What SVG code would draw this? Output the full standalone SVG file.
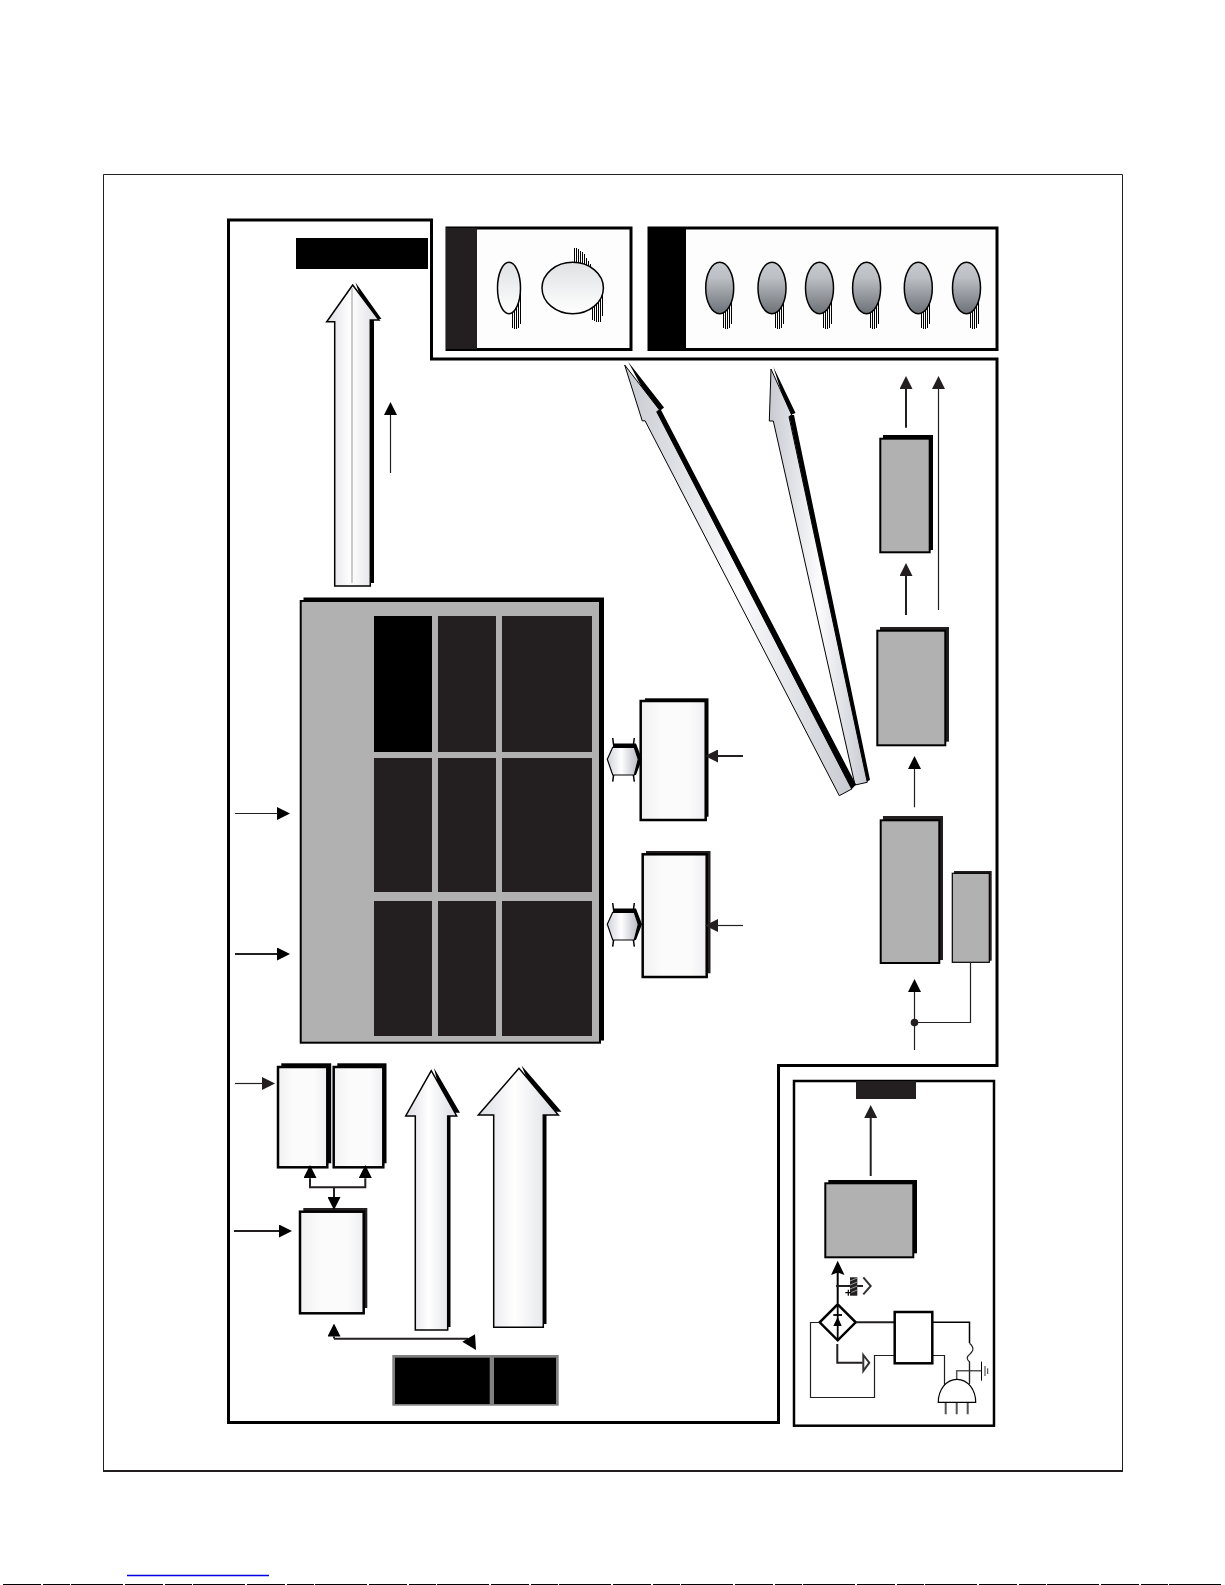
<svg xmlns="http://www.w3.org/2000/svg" xmlns:xlink="http://www.w3.org/1999/xlink" width="1225" height="1585" viewBox="0 0 1225 1585">
<style>
.k{fill:#000}
.d{fill:#231f20}
.gr{fill:#b1b1b1;stroke:#000;stroke-width:2}
.wb{fill:url(#gb);stroke:#000;stroke-width:2.5}
.ar{fill:url(#ga);stroke:#000;stroke-width:1.5;stroke-linejoin:miter}
.ad{fill:url(#gd);stroke:#000;stroke-width:1;stroke-linejoin:miter}
.e1{fill:url(#gl);stroke:#000;stroke-width:1.5}
.e2{fill:url(#gm);stroke:#000;stroke-width:1.5}
.c1{fill:none;stroke:#231f20;stroke-width:1.2}
.c2{fill:none;stroke:#231f20;stroke-width:2}
.c3{fill:none;stroke:#000;stroke-width:1.5}
.h{fill:none;stroke:#000;stroke-width:1}
.wht{fill:#fdfdfd;stroke:#000;stroke-width:3}
</style>
<defs>
<linearGradient id="ga"><stop offset="0" stop-color="#dcdde3"/><stop offset=".45" stop-color="#fff"/><stop offset="1" stop-color="#dcdde3"/></linearGradient>
<linearGradient id="gd"><stop offset="0" stop-color="#c8cad1"/><stop offset=".5" stop-color="#fbfbfc"/><stop offset="1" stop-color="#c8cad1"/></linearGradient>
<linearGradient id="gb"><stop offset="0" stop-color="#f1f1f3"/><stop offset=".3" stop-color="#fbfbfb"/><stop offset=".75" stop-color="#fbfbfb"/><stop offset="1" stop-color="#eeeef1"/></linearGradient>
<linearGradient id="gl" x2="0" y2="1"><stop offset="0" stop-color="#dfe1e3"/><stop offset="1" stop-color="#fff"/></linearGradient>
<linearGradient id="gm" x2="0" y2="1"><stop offset="0" stop-color="#c6c9ce"/><stop offset=".3" stop-color="#bcbfc4"/><stop offset="1" stop-color="#6c7177"/></linearGradient>
<linearGradient id="gh"><stop offset="0" stop-color="#d0d1da"/><stop offset=".45" stop-color="#fff"/><stop offset="1" stop-color="#b8bac4"/></linearGradient>
<marker id="hd" markerUnits="userSpaceOnUse" markerWidth="13" markerHeight="13" refX="0" refY="6.5" orient="auto" viewBox="0 0 13 13"><path d="M0 0L13 6.5L0 13z" fill="#231f20"/></marker>
<marker id="hk" markerUnits="userSpaceOnUse" markerWidth="13" markerHeight="13" refX="0" refY="6.5" orient="auto" viewBox="0 0 13 13"><path d="M0 0L13 6.5L0 13z" fill="#000"/></marker>
<g id="hatch"><path class="h" d="M3.500 0V40M5.500 0V41M7.500 0V41M9.500 0V40M11.500 0V36"/></g>
<g id="hex">
<path d="M612.700 738L614 748M634.300 738L633 748M612.700 781.700L614 772M634.300 781.700L633 772" stroke="#000" stroke-width="1.500" fill="none"/>
<path d="M613 743.500H636L642 759.300L636 775H633V747H613z" fill="#000"/>
<path d="M607.300 759.300L612.700 747.300H634.300L638.300 759.300L634.300 775H612.700z" fill="url(#gh)" stroke="#000" stroke-width="1.200"/>
</g>
</defs>
<rect width="1225" height="1585" fill="#fff"/>
<g id="page-frame">
<path d="M103.500 1471V174.500H1122.500V1471" fill="none" stroke="#231f20" stroke-width="1"/>
<path d="M103 1471H1123" stroke="#231f20" stroke-width="2"/>
<path d="M127 1575.500H269" stroke="#0000e0" stroke-width="1.500"/>
<path d="M3 1584.500H1222" stroke="#000" stroke-width="1" stroke-dasharray="38 2 27 1 52 2"/>
</g>
<g id="main-outline"><path d="M228.500 220H431.500V359H997V1065.500H778.500V1422.500H228.500z" fill="none" stroke="#000" stroke-width="3"/></g>
<g id="title-bar"><rect class="k" x="296" y="238" width="132" height="31"/></g>
<g id="panel-left">
<rect class="wht" x="447" y="228" width="184" height="121.500"/>
<rect class="d" x="446" y="228" width="31" height="121"/>
<g transform="translate(509,288)"><use xlink:href="#hatch"/></g>
<path class="h" d="M574.500 248V270M576.500 248V270M578.500 249V270M580.500 251V270M582.500 252V270M584.500 254V270M586.500 258V270M588.500 261V275M590.500 264V280M592.500 290V320M594.500 285V321M596.500 280V322M598.500 280V322M600.500 280V322M602.500 288V316"/>
<ellipse class="e1" cx="509" cy="288" rx="11.500" ry="25.700"/>
<ellipse class="e1" cx="572.700" cy="288" rx="30.700" ry="25.700"/>
</g>
<g id="panel-right">
<rect class="wht" x="649" y="228" width="348" height="121.500"/>
<rect class="k" x="648" y="227" width="38" height="123"/>
<g transform="translate(720,288)"><use xlink:href="#hatch"/></g>
<g transform="translate(772,288)"><use xlink:href="#hatch"/></g>
<g transform="translate(820,288)"><use xlink:href="#hatch"/></g>
<g transform="translate(867,288)"><use xlink:href="#hatch"/></g>
<g transform="translate(918,288)"><use xlink:href="#hatch"/></g>
<g transform="translate(967,288)"><use xlink:href="#hatch"/></g>
<ellipse class="e2" cx="719.700" cy="288" rx="14" ry="25.700"/>
<ellipse class="e2" cx="772" cy="288" rx="14" ry="25.700"/>
<ellipse class="e2" cx="819.500" cy="288" rx="14" ry="25.700"/>
<ellipse class="e2" cx="866.600" cy="288" rx="14" ry="25.700"/>
<ellipse class="e2" cx="918.300" cy="288" rx="14" ry="25.700"/>
<ellipse class="e2" cx="966.500" cy="288" rx="14" ry="25.700"/>
</g>
<g id="grid">
<rect class="k" x="303.500" y="597.500" width="300.500" height="443"/>
<rect class="gr" x="300.700" y="601" width="299.300" height="441.700"/>
<rect class="k" x="374" y="616" width="58" height="136"/>
<rect class="d" x="438" y="616" width="58" height="136"/>
<rect class="d" x="502" y="616" width="90" height="136"/>
<rect class="d" x="374" y="758" width="58" height="134"/>
<rect class="d" x="438" y="758" width="58" height="134"/>
<rect class="d" x="502" y="758" width="90" height="134"/>
<rect class="d" x="374" y="901" width="58" height="135"/>
<rect class="d" x="438" y="901" width="58" height="135"/>
<rect class="d" x="502" y="901" width="90" height="135"/>
</g>
<g id="box-a"><rect class="k" x="645" y="698.300" width="63.500" height="118.400"/><rect class="wb" x="640.700" y="701" width="65" height="119"/></g>
<g id="box-b"><rect class="d" x="646" y="851" width="64.500" height="122.300"/><rect class="wb" x="642.700" y="854.300" width="64" height="122.700"/></g>
<g id="hex-a"><use xlink:href="#hex"/></g>
<g id="hex-b"><use xlink:href="#hex" y="165"/></g>
<g id="box-r1"><rect class="k" x="883" y="435" width="50" height="115"/><rect class="gr" x="880.300" y="438.700" width="49.400" height="113.600"/></g>
<g id="box-r2"><rect class="d" x="880" y="627" width="69" height="114.700"/><rect class="gr" x="877.300" y="630.700" width="68" height="114.600"/></g>
<g id="box-r3"><rect class="d" x="883" y="816" width="60" height="144"/><rect class="gr" x="880.700" y="820.300" width="58.600" height="142.700"/></g>
<g id="box-r4"><rect class="d" x="954" y="871" width="37.700" height="89.700"/><rect class="gr" x="952.300" y="873.300" width="37" height="89" style="stroke-width:1.200"/></g>
<g id="box-m1"><rect class="k" x="281.300" y="1063.300" width="49.900" height="100"/><rect class="wb" x="278" y="1067" width="49.300" height="100.300"/></g>
<g id="box-m2"><rect class="k" x="337.300" y="1063.300" width="49.200" height="100"/><rect class="wb" x="333.700" y="1067" width="49.600" height="100.300"/></g>
<g id="box-m3"><rect class="d" x="303.300" y="1208" width="64" height="100"/><rect class="wb" x="300" y="1211.700" width="63.700" height="101.600"/></g>
<g id="bar-bottom"><rect x="392.300" y="1355" width="166.400" height="50.700" fill="#808080"/><rect class="k" x="395" y="1357.700" width="94.700" height="46.300"/><rect class="k" x="494" y="1357.700" width="62" height="46.300"/></g>
<g id="arrow-top">
<path class="k" d="M355.500 282.500L381.500 319H374V583H368V320Z"/>
<polygon class="ar" points="352.700,285 326.700,321.700 334.700,321.700 334.700,586 370.300,586 370.300,320 379,320"/>
<path d="M352 288V582.700" stroke="#b0b0b0" stroke-width="1.300"/>
</g>
<g id="arrow-up-1">
<path class="k" d="M434 1068L460 1112.700H450.500V1327H445V1114Z"/>
<polygon class="ar" points="431.300,1070.700 405.700,1116 415.300,1116 415.300,1330 447.700,1330 447.700,1116 456.700,1116"/>
</g>
<g id="arrow-up-2">
<path class="k" d="M521.500 1065.500L561.500 1111.700H546.500V1324H541V1113Z"/>
<polygon class="ar" points="519,1068.300 478.300,1115 493.700,1115 493.700,1327.300 543.300,1327.300 543.300,1115 558.300,1115"/>
</g>
<g id="arrow-diag-2">
<path class="k" d="M773.300 366.700L795.500 413L790.500 415L794 415L870 780L866 782L790 420Z"/>
<polygon class="ad" points="771,369 769.300,421 773.300,421 855,785 867.300,782.300 789,416.700 791.700,415"/>
</g>
<g id="arrow-diag-1">
<path class="k" d="M628.300 362L664 407.500L661 410L856 784.500L851 790L655 412Z"/>
<polygon class="ad" points="624.700,365 642.300,421 645,420.700 839.300,795.700 851.700,789 656.700,411.700 659.500,410"/>
</g>
<g id="connectors">
<path class="c1" d="M390.500 473V415" marker-end="url(#hk)"/>
<path class="c1" d="M235 813.500H277" marker-end="url(#hk)"/>
<path class="c2" d="M235 954H277" marker-end="url(#hk)"/>
<path class="c1" d="M235 1083.500H262" marker-end="url(#hd)"/>
<path class="c2" d="M234 1231H279" marker-end="url(#hk)"/>
<path class="c2" d="M310 1178.500V1187.300H365.300V1178.500" />
<path class="c2" d="M310 1178.500V1178" marker-end="url(#hk)"/>
<path class="c2" d="M365.300 1178.500V1178" marker-end="url(#hk)"/>
<path class="c2" d="M334 1187.300V1197" marker-end="url(#hk)"/>
<path class="c2" d="M334 1338.500V1336.500" marker-end="url(#hk)"/>
<path class="c2" d="M334 1338.700H468"/>
<path class="k" d="M462.300 1341.700L475 1334.300L476 1350Z"/>
<path class="c2" d="M743 756H718" marker-end="url(#hd)"/>
<path class="c1" d="M743 925.500H718" marker-end="url(#hd)"/>
<path class="c2" d="M906 427.700V389" marker-end="url(#hd)"/>
<path class="c1" d="M938.500 610V389" marker-end="url(#hd)"/>
<path class="c2" d="M906 615V576" marker-end="url(#hd)"/>
<path class="c1" d="M914.500 807.300V769" marker-end="url(#hk)"/>
<path class="c1" d="M914.500 1050V992" marker-end="url(#hk)"/>
<path class="c1" d="M914.500 1022.500H970.500V962.300"/>
<circle cx="914.500" cy="1022.500" r="3.800" fill="#231f20"/>
</g>
<g id="power-panel">
<rect x="794" y="1081" width="200" height="344.700" fill="#fff" stroke="#000" stroke-width="2.500"/>
<rect class="d" x="856" y="1081" width="60" height="18"/>
<g id="box-p"><rect class="k" x="828.300" y="1180" width="88.700" height="73.300"/><rect class="gr" x="825.300" y="1183.300" width="88" height="74"/></g>
<path class="c2" d="M870.700 1176V1118" marker-end="url(#hd)"/>
<path d="M837.700 1303.300V1270" stroke="#000" stroke-width="2" fill="none"/>
<path d="M837.700 1260.700L844.500 1275L837.700 1272.500L831 1275Z" fill="#000"/>
<path d="M836 1286H863" stroke="#231f20" stroke-width="2"/>
<rect x="850" y="1277.300" width="7.300" height="18.400" fill="#231f20"/>
<path d="M850 1281L857.300 1278M850 1285L857.300 1282M850 1289L857.300 1286M850 1293L857.300 1290" stroke="#999" stroke-width="1"/>
<path d="M863.300 1277.300L870.700 1286L863.300 1294.300" fill="#fff" stroke="#333" stroke-width="2"/>
<path d="M845.300 1292.700H851.300M848.300 1289.700V1295.700" stroke="#000" stroke-width="1.200"/>
<path d="M837.700 1304.300L855.700 1322.300L837.700 1340.300L819.700 1322.300Z" fill="#fff" stroke="#000" stroke-width="2.500"/>
<path d="M837.700 1305V1339" stroke="#000" stroke-width="1.800"/>
<path d="M833.300 1315H842" stroke="#000" stroke-width="1.800"/>
<path d="M833.300 1326L841.700 1326L837.700 1317Z" fill="#000"/>
<path class="c2" d="M856 1322.300H894.700"/>
<path class="c3" d="M932.300 1322.300H969.500V1343"/>
<path class="c1" d="M969.500 1343.300C976 1349 972 1352 968 1356C966 1358 968 1361 970 1362"/>
<path class="c1" d="M969.500 1362V1382"/>
<path class="c2" d="M837.300 1344V1362.700H862.700"/>
<path d="M863.300 1355L869.300 1362.700L863.300 1371Z" fill="#fff" stroke="#333" stroke-width="2"/>
<path class="c1" d="M819.300 1322.500H810.500V1397.500H874.500V1355.500H894.700"/>
<path class="c1" d="M932.300 1355.500H944.500V1385"/>
<rect x="894.700" y="1312" width="37.600" height="51.300" fill="#fff" stroke="#000" stroke-width="2.500"/>
<path d="M956.700 1379.300V1370.700H981.700" fill="none" stroke="#555" stroke-width="1.500"/>
<path d="M981.500 1361.700V1380.700" stroke="#000" stroke-width="1"/>
<path d="M985 1366V1376M987.700 1368.300V1374" stroke="#333" stroke-width="1"/>
<path d="M945.700 1402.300V1414.300M956.700 1402.300V1414.300M967.700 1402.300V1414.300" stroke="#555" stroke-width="2"/>
<path d="M938.300 1402.300C938.300 1390 946 1379.300 957 1379.300C968 1379.300 975.700 1390 975.700 1402.300Z" fill="#fff" stroke="#000" stroke-width="1.200"/>
<path class="c1" d="M969.500 1362V1384"/>
</g>
</svg>
